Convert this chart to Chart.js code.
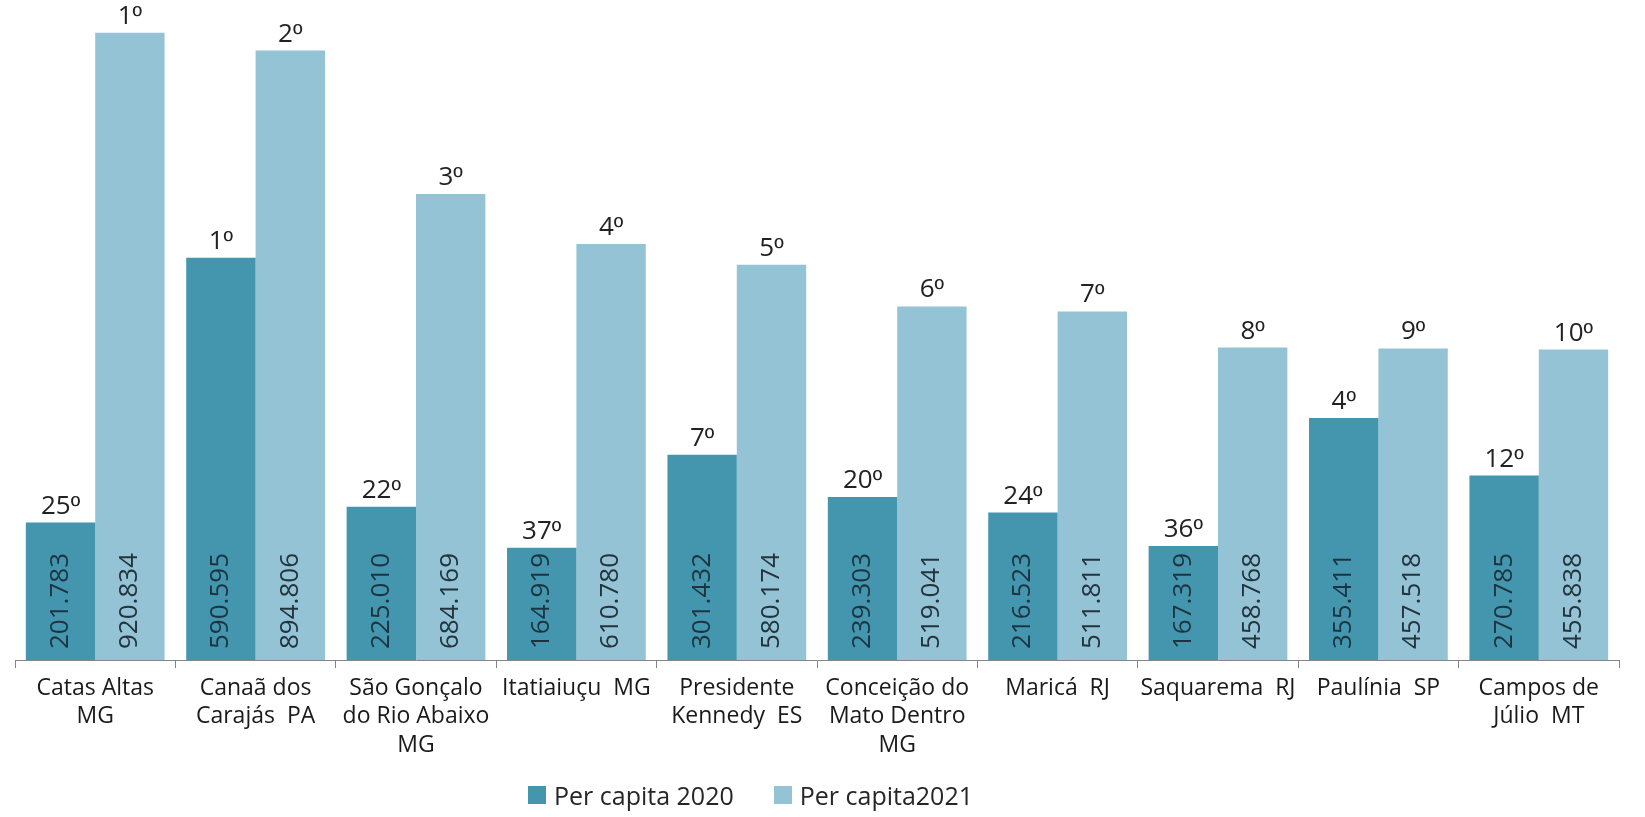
<!DOCTYPE html>
<html>
<head>
<meta charset="utf-8">
<script src="https://cdn.jsdelivr.net/npm/chart.js@4"></script>
<style>
  body { margin: 0; background: #fff; }
  #wrap { position: relative; width: 1645px; height: 817px; }
  #legend { position: absolute; left: 528px; top: 778px; display: flex; align-items: center;
            font-family: 'Open Sans', sans-serif; font-size: 25px; color: #262626; }
  .item { display: flex; align-items: center; margin-right: 40px; }
  .box { width: 18px; height: 18px; margin-right: 8px; }
</style>
</head>
<body>
<div id="wrap">
  <canvas id="chart" width="1645" height="817"></canvas>
  <div id="legend"></div>
</div>
<script>
const cities = [
  ['Catas Altas', 'MG'],
  ['Canaã dos', 'Carajás  PA'],
  ['São Gonçalo', 'do Rio Abaixo', 'MG'],
  ['Itatiaiuçu  MG'],
  ['Presidente', 'Kennedy  ES'],
  ['Conceição do', 'Mato Dentro', 'MG'],
  ['Maricá  RJ'],
  ['Saquarema  RJ'],
  ['Paulínia  SP'],
  ['Campos de', 'Júlio  MT']
];
const perCapita2020 = [201783, 590595, 225010, 164919, 301432, 239303, 216523, 167319, 355411, 270785];
const perCapita2021 = [920834, 894806, 684169, 610780, 580174, 519041, 511811, 458768, 457518, 455838];
const rank2020 = [25, 1, 22, 37, 7, 20, 24, 36, 4, 12];
const rank2021 = [1, 2, 3, 4, 5, 6, 7, 8, 9, 10];

const seriesNames = ['Per capita 2020', 'Per capita2021'];
const colors = ['#4396ae', '#93c3d5'];
const ranks = [rank2020, rank2021];

// Brazilian thousands format: 201783 -> 201.783
const fmt = v => v.toLocaleString('pt-BR');

// value labels inside the base of each bar, rank labels above
const barLabels = {
  id: 'barLabels',
  afterDatasetsDraw(chart) {
    const ctx = chart.ctx;
    chart.data.datasets.forEach((ds, di) => {
      chart.getDatasetMeta(di).data.forEach((bar, i) => {
        ctx.save();
        ctx.fillStyle = '#222';
        ctx.textBaseline = 'alphabetic';
        ctx.textAlign = 'left';
        // number in Open Sans, ordinal sign in Liberation Sans (underlined º)
        const num = String(ranks[di][i]);
        ctx.font = '26px "Open Sans"';
        const wNum = ctx.measureText(num).width;
        ctx.font = '26px "Liberation Sans"';
        const wOrd = ctx.measureText('º').width;
        const x0 = bar.x - (wNum + wOrd) / 2;
        ctx.fillText('º', x0 + wNum, bar.y - 9);
        ctx.font = '26px "Open Sans"';
        ctx.fillText(num, x0, bar.y - 9);

        ctx.translate(bar.x, bar.base - 11);
        ctx.rotate(-Math.PI / 2);
        ctx.font = '26px "Open Sans"';
        ctx.textAlign = 'left';
        ctx.textBaseline = 'middle';
        ctx.fillStyle = di === 0 ? '#1c3440' : '#23343d';
        ctx.fillText(fmt(ds.data[i]), 0, 0);
        ctx.restore();
      });
    });
  }
};

new Chart(document.getElementById('chart'), {
  type: 'bar',
  data: {
    labels: cities,
    datasets: [
      { label: seriesNames[0], data: perCapita2020, backgroundColor: colors[0] },
      { label: seriesNames[1], data: perCapita2021, backgroundColor: colors[1] }
    ]
  },
  options: {
    responsive: false,
    animation: false,
    categoryPercentage: 0.865,
    barPercentage: 1.0,
    layout: { padding: { left: 15, right: 26, top: 0, bottom: 0 } },
    plugins: {
      legend: { display: false },
      tooltip: { enabled: false }
    },
    scales: {
      x: {
        grid: { offset: true, drawOnChartArea: false, tickLength: 8, color: '#868686' },
        border: { color: '#868686' },
        ticks: {
          color: '#1a1a1a',
          padding: 6,
          maxRotation: 0,
          autoSkip: false,
          font: { family: 'Open Sans', size: 23, lineHeight: 1.24 }
        },
        afterFit(scale) { scale.height = 157; }
      },
      y: {
        display: false,
        min: 0,
        max: 969000
      }
    }
  },
  plugins: [barLabels]
});

// legend
const legend = document.getElementById('legend');
seriesNames.forEach((name, i) => {
  const item = document.createElement('div');
  item.className = 'item';
  item.innerHTML = `<div class="box" style="background:${colors[i]}"></div><span>${name}</span>`;
  legend.appendChild(item);
});
</script>
</body>
</html>
